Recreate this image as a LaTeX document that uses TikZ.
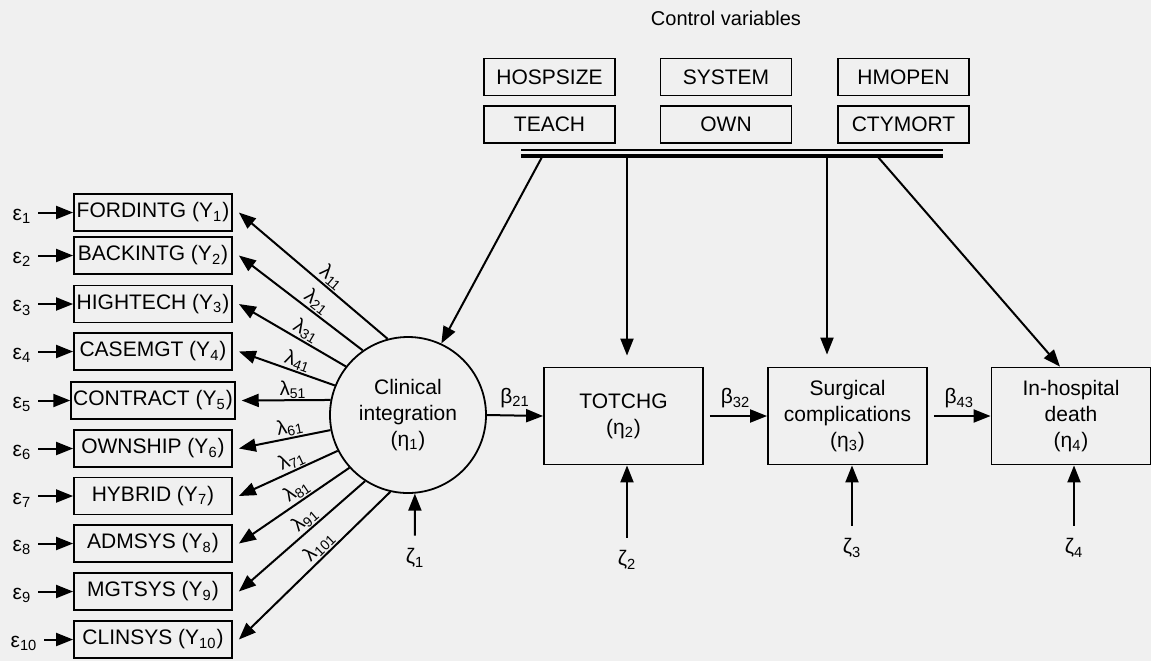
\documentclass[tikz,border=0pt]{standalone}
\usepackage{fontspec}
\setmainfont{Liberation Sans}
\usetikzlibrary{arrows.meta}

\tikzset{
  ctrl/.style={draw, line width=0.8pt, minimum width=65.5pt, minimum height=18.5pt, inner sep=1pt},
  obs/.style={draw, line width=0.9pt, minimum width=79pt, minimum height=18.5pt, inner sep=1pt},
  latent/.style={draw, line width=0.9pt, minimum width=79.5pt, minimum height=48.5pt, align=center, inner sep=1pt},
  arr/.style={->, line width=1pt},
  lam/.style={sloped, above, inner sep=0.5pt, pos=0.42, font=\fontsize{10}{12}\selectfont},
}

\begin{document}
\begin{tikzpicture}[x=0.5pt, y=-0.5pt, >={Triangle[length=8.5pt,width=6.5pt]}, font=\fontsize{10.5}{13}\selectfont]
    \useasboundingbox (0,0) rectangle (1151,661);
    \fill[black!6] (0,0) rectangle (1151,661);

    % control variables
    \node (ctitle) at (726,18) {\fontsize{10}{12}\selectfont Control variables};
    \node[ctrl] (hosp) at (549.5,77) {HOSPSIZE};
    \node[ctrl] (sys) at (726,77) {SYSTEM};
    \node[ctrl] (hmo) at (903.5,77) {HMOPEN};
    \node[ctrl] (teach) at (549.5,124.5) {TEACH};
    \node[ctrl] (own) at (726,124.5) {OWN};
    \node[ctrl] (cty) at (903.5,124.5) {CTYMORT};

    % bar under the control boxes
    \draw[line width=0.7pt] (521,150) -- (943,150);
    \draw[line width=1.7pt] (521,156) -- (943,156);
    \coordinate (b1) at (542,157);
    \coordinate (b2) at (627,157);
    \coordinate (b3) at (827,157);
    \coordinate (b4) at (878,157);

    % latent variables
    \node[circle, draw, line width=0.9pt, minimum size=78pt, align=center, inner sep=0pt] (eta1) at (408,415) {Clinical\\integration\\(η\textsubscript{1})};
    \node[latent] (eta2) at (623.5,416) {TOTCHG\\(η\textsubscript{2})};
    \node[latent] (eta3) at (847.5,416) {Surgical\\complications\\(η\textsubscript{3})};
    \node[latent] (eta4) at (1071,416) {In-hospital\\death\\(η\textsubscript{4})};

    % indicators
    \node[obs] (y1) at (153,212.5) {FORDINTG (Y\textsubscript{1})};
    \node[obs] (y2) at (153,255.5) {BACKINTG (Y\textsubscript{2})};
    \node[obs] (y3) at (153,304) {HIGHTECH (Y\textsubscript{3})};
    \node[obs] (y4) at (153,351.5) {CASEMGT (Y\textsubscript{4})};
    \node[obs] (y5) at (153,400.5) {CONTRACT (Y\textsubscript{5})};
    \node[obs] (y6) at (153,448.5) {OWNSHIP (Y\textsubscript{6})};
    \node[obs] (y7) at (153,496) {HYBRID (Y\textsubscript{7})};
    \node[obs] (y8) at (153,543.5) {ADMSYS (Y\textsubscript{8})};
    \node[obs] (y9) at (153,591.5) {MGTSYS (Y\textsubscript{9})};
    \node[obs] (y10) at (153,639.5) {CLINSYS (Y\textsubscript{10})};

    % errors
    \node (e1) at (22,216.5) {ε\textsubscript{1}};
    \node (e2) at (22,259.5) {ε\textsubscript{2}};
    \node (e3) at (22,308) {ε\textsubscript{3}};
    \node (e4) at (22,355.5) {ε\textsubscript{4}};
    \node (e5) at (22,404.5) {ε\textsubscript{5}};
    \node (e6) at (22,452.5) {ε\textsubscript{6}};
    \node (e7) at (22,500) {ε\textsubscript{7}};
    \node (e8) at (22,547.5) {ε\textsubscript{8}};
    \node (e9) at (22,595.5) {ε\textsubscript{9}};
    \node (e10) at (24,643.5) {ε\textsubscript{10}};
    \draw[arr] (e1.east |- y1) -- (y1);
    \draw[arr] (e2.east |- y2) -- (y2);
    \draw[arr] (e3.east |- y3) -- (y3);
    \draw[arr] (e4.east |- y4) -- (y4);
    \draw[arr] (e5.east |- y5) -- (y5);
    \draw[arr] (e6.east |- y6) -- (y6);
    \draw[arr] (e7.east |- y7) -- (y7);
    \draw[arr] (e8.east |- y8) -- (y8);
    \draw[arr] (e9.east |- y9) -- (y9);
    \draw[arr] (e10.east |- y10) -- (y10);

    % loadings
    \draw[arr] (eta1.105) -- node[lam] {λ\textsubscript{11}} ([xshift=3pt]y1.east);
    \draw[arr] (eta1.125) -- node[lam] {λ\textsubscript{21}} ([xshift=3pt]y2.east);
    \draw[arr] (eta1.142) -- node[lam] {λ\textsubscript{31}} ([xshift=3pt]y3.east);
    \draw[arr] (eta1.158) -- node[lam] {λ\textsubscript{41}} ([xshift=3pt]y4.east);
    \draw[arr] (eta1.169) -- node[lam] {λ\textsubscript{51}} ([xshift=3pt]y5.east);
    \draw[arr] (eta1.191) -- node[lam] {λ\textsubscript{61}} ([xshift=3pt]y6.east);
    \draw[arr] (eta1.207) -- node[lam] {λ\textsubscript{71}} ([xshift=3pt]y7.east);
    \draw[arr] (eta1.222) -- node[lam] {λ\textsubscript{81}} ([xshift=3pt]y8.east);
    \draw[arr] (eta1.237) -- node[lam] {λ\textsubscript{91}} ([xshift=3pt]y9.east);
    \draw[arr] (eta1.257) -- node[lam] {λ\textsubscript{101}} ([xshift=3pt]y10.east);

    % paths between latents
    \draw[arr] (eta1.east) -- node[above] {β\textsubscript{21}} (eta2.west);
    \draw[arr, shorten <=3pt] (eta2.east) -- node[above] {β\textsubscript{32}} (eta3.west);
    \draw[arr, shorten <=3pt] (eta3.east) -- node[above] {β\textsubscript{43}} (eta4.west);

    % controls
    \draw[arr] (b1) -- (eta1.65);
    \draw[arr, shorten >=5.5pt] (b2) -- (b2 |- eta2.north);
    \draw[arr, shorten >=6pt] (b3) -- (b3 |- eta3.north);
    \draw[arr] (b4) -- ([xshift=-5.5pt]eta4.north);

    % disturbances
    \node (z1) at (415,558) {ζ\textsubscript{1}};
    \node (z2) at (627,560) {ζ\textsubscript{2}};
    \node (z3) at (852,548) {ζ\textsubscript{3}};
    \node (z4) at (1074,548) {ζ\textsubscript{4}};
    \draw[arr, shorten <=3pt] (z1) -- (eta1.275);
    \draw[arr, shorten <=3pt] (z2) -- (z2 |- eta2.south);
    \draw[arr, shorten <=3pt] (z3) -- (z3 |- eta3.south);
    \draw[arr, shorten <=3pt] (z4) -- (z4 |- eta4.south);
\end{tikzpicture}
\end{document}
